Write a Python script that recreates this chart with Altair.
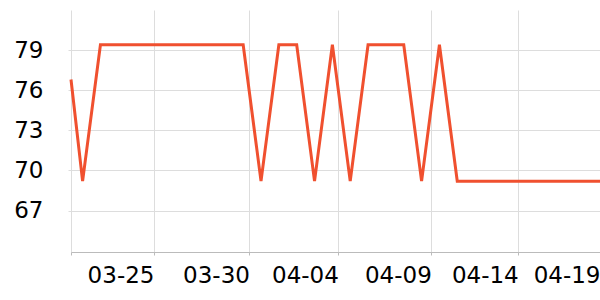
import altair as alt
import pandas as pd

dates = [
    "2024-03-20T08:24", "2024-03-21", "2024-03-22", "2024-03-23", "2024-03-24",
    "2024-03-25", "2024-03-26", "2024-03-27", "2024-03-28", "2024-03-29",
    "2024-03-30", "2024-03-31", "2024-04-01", "2024-04-02", "2024-04-03",
    "2024-04-04", "2024-04-05", "2024-04-06", "2024-04-07", "2024-04-08",
    "2024-04-09", "2024-04-10", "2024-04-11", "2024-04-12", "2024-04-13",
    "2024-04-14", "2024-04-15", "2024-04-16", "2024-04-17", "2024-04-18",
    "2024-04-19",
]
values = [
    76.8, 69.2, 79.4, 79.4, 79.4,
    79.4, 79.4, 79.4, 79.4, 79.4,
    79.4, 69.2, 79.4, 79.4, 69.2,
    79.4, 69.2, 79.4, 79.4, 79.4,
    69.2, 79.4, 69.2, 69.2, 69.2,
    69.2, 69.2, 69.2, 69.2, 69.2,
    69.2,
]
tick_dates = [
    "2024-03-20T08:24", "2024-03-25T00:00", "2024-03-30T08:27", "2024-04-04T08:04",
    "2024-04-09T13:03", "2024-04-14T10:00", "2024-04-19T00:00",
]
y_ticks = [67, 70, 73, 76, 79]
y_domain = [63.9, 82.0]


def to_ms(strings):
    ts = pd.to_datetime(strings, utc=True, format="mixed")
    return [int((t - pd.Timestamp("1970-01-01", tz="UTC")) // pd.Timedelta(milliseconds=1)) for t in ts]


ms = to_ms(dates)
tick_ms = to_ms(tick_dates)
df = pd.DataFrame({"t": ms, "v": values})

chart = (
    alt.Chart(df)
    .mark_line(color="#f0502f", strokeWidth=3)
    .encode(
        x=alt.X(
            "t:Q",
            scale=alt.Scale(domain=[min(ms), max(ms)], nice=False, zero=False),
            axis=alt.Axis(
                title=None,
                values=tick_ms,
                labelExpr="datum.value == " + str(min(ms)) + " ? '' : utcFormat(datum.value, '%m-%d')",
                labelAlign="right",
                labelFontSize=23,
                labelFont="DejaVu Sans",
                labelColor="#000000",
                labelPadding=9,
                tickSize=3,
                tickColor="#bbbbbb",
                domainColor="#bbbbbb",
                grid=True,
                gridColor="#dddddd",
                labelOverlap=False,
                labelFlush=False,
            ),
        ),
        y=alt.Y(
            "v:Q",
            scale=alt.Scale(domain=y_domain, nice=False, zero=False),
            axis=alt.Axis(
                title=None,
                values=y_ticks,
                labelFontSize=23,
                labelFont="DejaVu Sans",
                labelColor="#000000",
                labelPadding=25,
                tickSize=3,
                tickColor="#dddddd",
                domain=False,
                grid=True,
                gridColor="#dddddd",
                labelBaseline="middle",
            ),
        ),
    )
    .properties(
        width=529,
        height=242,
        autosize=alt.AutoSizeParams(type="none"),
        padding={"left": 71, "top": 10, "right": 0, "bottom": 48},
    )
    .configure_view(stroke=None)
)

chart.save("out.html", embed_options={"renderer": "svg", "actions": False})
